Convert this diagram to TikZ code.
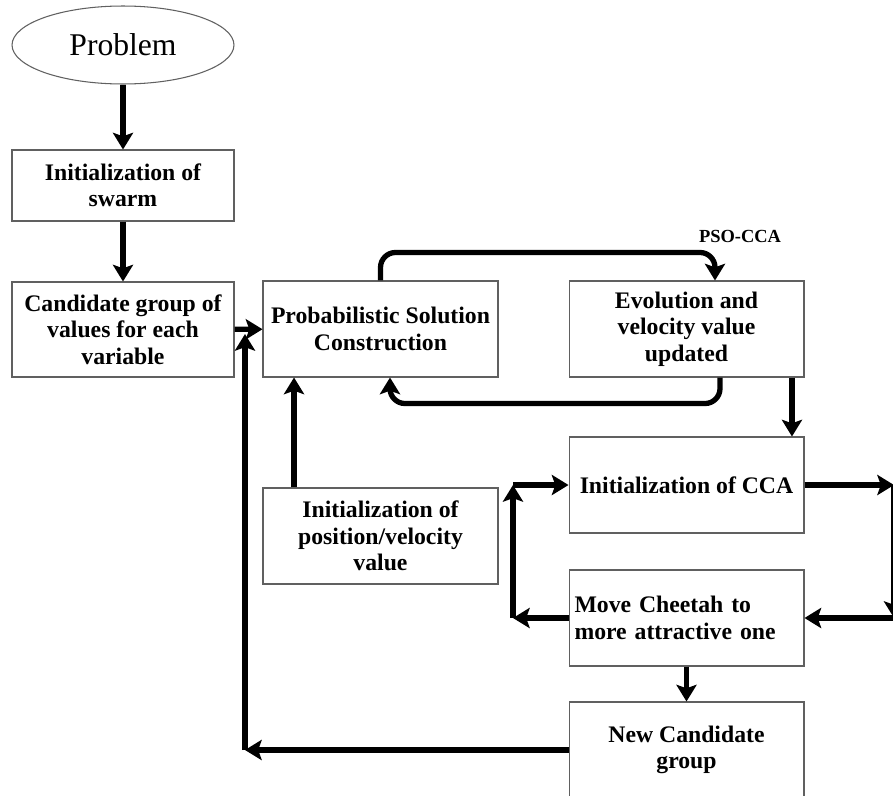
\documentclass[tikz,border=0pt]{standalone}
\usepackage{fontspec}
\setmainfont{Liberation Serif}
\usetikzlibrary{positioning,shapes.geometric,arrows.meta,calc}

\begin{document}
\begin{tikzpicture}[
  x=0.02cm, y=-0.02cm,
  every node/.style={font=\fontsize{13.5}{15}\selectfont\bfseries},
  block/.style={rectangle, draw=gray!75!black, line width=0.6pt, fill=white,
                align=center, minimum width=4.7cm, minimum height=1.92cm, inner sep=3pt},
  link/.style={line width=3pt, -{Stealth[length=9.5pt,width=11.5pt,inset=2pt]}},
  roundlink/.style={link, rounded corners=0.3cm}
]
  \useasboundingbox[fill=white] (0,0) rectangle (893,795);

  \node[ellipse, draw=gray!75!black, line width=0.6pt, minimum width=4.44cm, minimum height=1.56cm,
        font=\fontsize{18}{20}\selectfont] (problem) at (123,45) {Problem};

  \node[block, minimum width=4.44cm, minimum height=1.42cm] (swarm) at (123,185.5) {Initialization of\\swarm};
  \node[block, minimum width=4.44cm, minimum height=1.9cm] (cand) at (123,329.5) {Candidate group of\\values for each\\variable};

  \node[block] (psc) at (380.5,329) {Probabilistic Solution\\Construction};
  \node[block] (evol) at (686.5,329) {Evolution and\\velocity value\\updated};
  \node[block] (posvel) at (380.5,536) {Initialization of\\position/velocity\\value};

  \node[block] (cca) at (686.5,485) {Initialization of CCA};
  \node[block, text width=4.48cm, align=left] (move) at (686.5,618) {Move Cheetah to\\more attractive one};
  \node[block] (newcand) at (686.5,750) {New Candidate\\group};

  \node[font=\fontsize{10.5}{12}\selectfont\bfseries] (tag) at (740,236) {PSO-CCA};

  % corner points of the side loops
  \coordinate (rtop) at (894,485);
  \coordinate (rbot) at (894,618);
  \coordinate (ltop) at (513,485);
  \coordinate (lbot) at (513,618);
  \coordinate (bcorner) at (245,750);
  \coordinate (ljoin) at (245,334);

  \draw[link] (problem) -- (swarm);
  \draw[link] (swarm) -- (cand);
  \draw[link] (cand) -- (psc);

  % PSO loop
  \draw[roundlink] (psc.north) -- ++(0,-28) -| ([xshift=0.57cm]evol.north);
  \draw[roundlink] ([xshift=0.67cm]evol.south) -- ++(0,26) -| ([xshift=0.19cm]psc.south);
  \draw[link] ([xshift=-1.73cm]posvel.north) -- ([xshift=-1.73cm]psc.south);

  \draw[link] ([xshift=2.11cm]evol.south) -- ([xshift=2.11cm]cca.north);

  % CCA loops
  \draw[link] (cca) -- (rtop);
  \draw[link] (rtop) -- (rbot);
  \draw[link] (rbot) -- (move);
  \draw[link] (move) -- (lbot);
  \draw[link] (lbot) -- (ltop);
  \draw[link] (ltop) -- (cca);

  \draw[link] (move) -- (newcand);
  \draw[link] (newcand) -- (bcorner);
  \draw[link] (bcorner) -- (ljoin);
\end{tikzpicture}
\end{document}
